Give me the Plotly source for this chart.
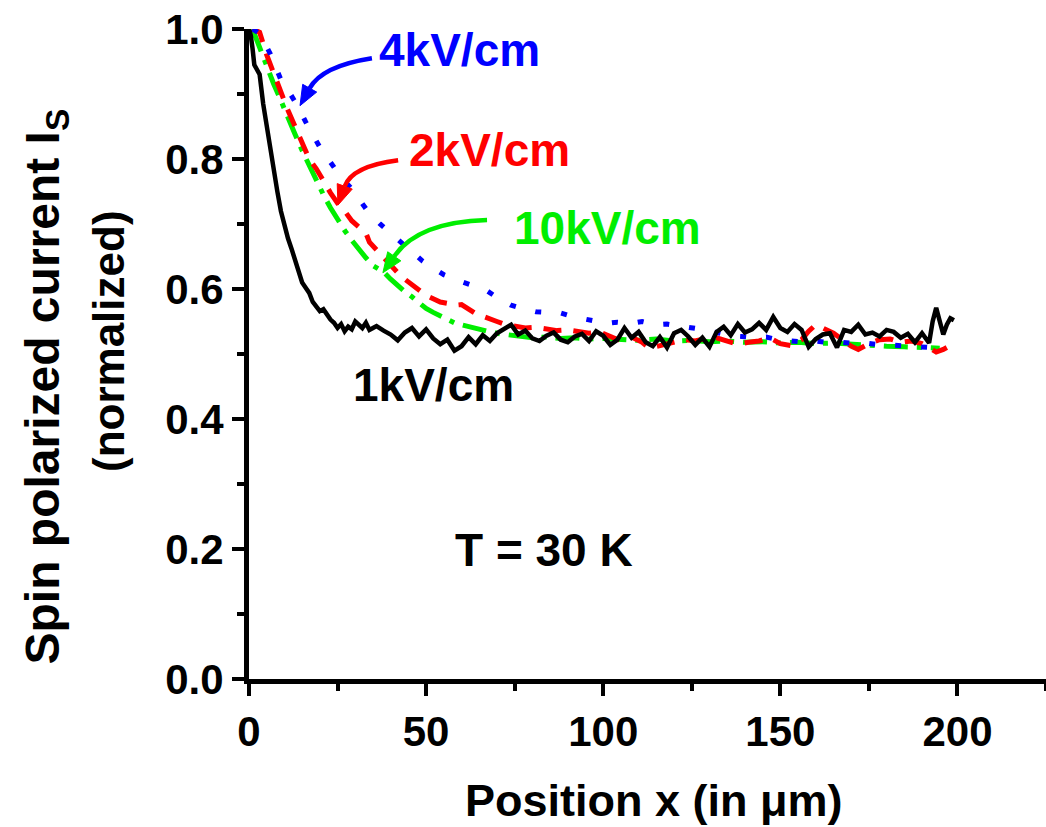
import math
import plotly.graph_objects as go

# ---------------- data ----------------
x_1kV = [0, 0.5, 1, 1.5, 2, 3, 4, 5, 6, 7, 8, 9, 10, 11, 12, 13, 14, 15, 16, 17, 18, 19, 20,
         21, 22, 23, 24, 25, 26, 27, 28, 29, 30, 31, 32, 33, 34, 35,
         36, 38, 40, 42, 44, 46, 48, 50, 52, 54, 56, 58, 60, 62, 64, 66, 68, 70, 72, 74, 76, 78,
         80, 82, 84, 86, 88, 90, 92, 94, 96, 98, 100, 102, 104, 106, 108, 110, 112, 114, 116, 118,
         120, 122, 124, 126, 128, 130, 132, 134, 136, 138, 140, 142, 144, 146, 148, 150, 152, 154,
         156, 158, 160, 162, 164, 166, 168, 170, 172, 174, 176, 178, 180, 182, 184, 186, 188, 190,
         192, 193, 194, 195, 196, 197, 198, 199]
y_1kV = [1.0, 0.99, 0.97, 0.945, 0.94, 0.93, 0.885, 0.85, 0.81, 0.78, 0.75, 0.72, 0.695, 0.678, 0.662, 0.646, 0.628, 0.61, 0.602, 0.594, 0.58, 0.574, 0.566,
         0.569, 0.56, 0.553, 0.548, 0.54, 0.546, 0.535, 0.542, 0.538, 0.55, 0.546, 0.54, 0.548, 0.537, 0.54,
         0.543, 0.536, 0.53, 0.521, 0.533, 0.54, 0.527, 0.538, 0.524, 0.515, 0.522, 0.505, 0.512, 0.526, 0.515, 0.529, 0.52, 0.532, 0.538, 0.545, 0.53, 0.536,
         0.524, 0.52, 0.528, 0.533, 0.522, 0.518, 0.527, 0.531, 0.52, 0.535, 0.528, 0.514, 0.522, 0.54, 0.525, 0.534, 0.518, 0.512, 0.526, 0.51,
         0.532, 0.537, 0.527, 0.514, 0.525, 0.511, 0.534, 0.542, 0.529, 0.546, 0.533, 0.538, 0.548, 0.537, 0.557, 0.54, 0.534, 0.546,
         0.537, 0.511, 0.523, 0.53, 0.532, 0.51, 0.537, 0.534, 0.545, 0.53, 0.533, 0.527, 0.537, 0.534, 0.525, 0.531, 0.518, 0.532,
         0.517, 0.55, 0.571, 0.55, 0.53, 0.545, 0.555, 0.552]

x_2kV = [1, 3, 5, 7, 9, 11, 13, 15, 17, 19, 21, 23, 25, 27, 29, 31, 33, 34, 36, 38, 40, 42, 44, 46, 48,
         50, 52, 54, 56, 58, 60, 62, 64, 66, 68, 70, 72, 75, 78, 81, 84, 87, 90, 93, 96, 99, 102, 105,
         108, 111, 113, 115, 117, 120, 123, 126, 129, 132, 135, 138, 141, 144, 147, 150, 153, 156, 158,
         160, 162, 165, 168, 170, 172, 175, 178, 181, 184, 187, 190, 192, 194, 196, 197]
y_2kV = [1.0, 0.995, 0.96, 0.93, 0.9, 0.875, 0.85, 0.825, 0.8, 0.785, 0.765, 0.748, 0.732, 0.72, 0.705, 0.695, 0.686, 0.672, 0.66, 0.648, 0.638, 0.625, 0.615, 0.607, 0.6,
         0.59, 0.585, 0.58, 0.578, 0.575, 0.576, 0.568, 0.562, 0.558, 0.553, 0.55, 0.546, 0.543, 0.54, 0.541, 0.538, 0.536, 0.537, 0.534, 0.532, 0.534, 0.527, 0.52,
         0.526, 0.518, 0.509, 0.512, 0.515, 0.518, 0.522, 0.52, 0.524, 0.525, 0.519, 0.515, 0.518, 0.52, 0.525, 0.516, 0.513, 0.522, 0.535,
         0.545, 0.54, 0.532, 0.52, 0.512, 0.507, 0.516, 0.522, 0.523, 0.518, 0.52, 0.516, 0.51, 0.503, 0.507, 0.51]

x_4kV = [1, 3, 6, 9, 12, 14, 16, 18, 20, 23, 26, 29, 32, 34, 37, 40, 43, 46, 49, 52, 55, 59, 63, 67,
         70, 74, 77, 81, 84, 88, 91, 94, 97, 101, 104, 108, 111, 115, 118, 122, 125, 129, 132, 136,
         139, 143, 146, 150, 153, 157, 160, 164, 167, 171, 174, 178, 181, 185, 188, 192, 195, 197]
y_4kV = [1.0, 0.993, 0.962, 0.922, 0.897, 0.879, 0.857, 0.836, 0.818, 0.795, 0.772, 0.754, 0.73, 0.716, 0.7, 0.686, 0.671, 0.657, 0.643, 0.632, 0.622, 0.613, 0.606, 0.598,
         0.587, 0.575, 0.57, 0.565, 0.564, 0.563, 0.558, 0.555, 0.551, 0.547, 0.549, 0.547, 0.55, 0.545, 0.546, 0.543, 0.54, 0.537, 0.533, 0.528,
         0.527, 0.525, 0.526, 0.521, 0.52, 0.518, 0.52, 0.517, 0.518, 0.516, 0.517, 0.514, 0.514, 0.512, 0.511, 0.51, 0.509, 0.508]

x_10kV = [1, 3, 5, 7, 9, 11, 13, 15, 17, 19, 21, 23, 25, 27, 29, 31, 33, 35, 37, 38, 40, 42, 44, 46, 48,
          50, 52, 54, 56, 58, 60, 62, 65, 68, 71, 74, 77, 80, 84, 88, 92, 96, 100, 105, 110, 115, 120,
          125, 130, 135, 140, 145, 150, 155, 160, 165, 170, 175, 180, 185, 190, 195]
y_10kV = [1.0, 0.97, 0.945, 0.915, 0.89, 0.862, 0.838, 0.813, 0.79, 0.765, 0.745, 0.725, 0.706, 0.69, 0.675, 0.66, 0.648, 0.636, 0.628, 0.626, 0.615, 0.605, 0.596, 0.588, 0.578,
          0.57, 0.564, 0.558, 0.553, 0.548, 0.545, 0.542, 0.538, 0.534, 0.531, 0.529, 0.527, 0.525, 0.526, 0.524, 0.525, 0.523, 0.524, 0.522, 0.521, 0.523, 0.52,
          0.521, 0.519, 0.52, 0.518, 0.519, 0.517, 0.518, 0.516, 0.517, 0.515, 0.514, 0.512, 0.511, 0.51, 0.509]

x_ticks = [0, 50, 100, 150, 200]
y_ticks = [0.0, 0.2, 0.4, 0.6, 0.8, 1.0]
y_ticklabels = ["0.0", "0.2", "0.4", "0.6", "0.8", "1.0"]

# ---------------- styles / layout ----------------
BLUE = "#0000ff"
RED = "#ff0000"
GREEN = "#00ee00"
BLACK = "#000000"
FONT = "Liberation Sans"

W, H = 1046, 827
ML, MR, MT, MB = 249, 0, 29, 148
XR = [0, 225]
YR = [0, 1]
SX = (W - ML - MR) / (XR[1] - XR[0])   # px per x unit
SY = (H - MT - MB) / (YR[1] - YR[0])   # px per y unit

fig = go.Figure()
fig.add_trace(go.Scatter(x=x_10kV, y=y_10kV, mode="lines",
                         line=dict(color=GREEN, width=5, dash="24px,9px,5px,9px")))
fig.add_trace(go.Scatter(x=x_2kV, y=y_2kV, mode="lines",
                         line=dict(color=RED, width=5, dash="18px,12px")))
fig.add_trace(go.Scatter(x=x_4kV, y=y_4kV, mode="lines",
                         line=dict(color=BLUE, width=5, dash="6px,20px")))
fig.add_trace(go.Scatter(x=x_1kV, y=y_1kV, mode="lines",
                         line=dict(color=BLACK, width=4.5)))

# curved arrows: start, control, end (data coords)
arrows = [
    (BLUE, (34.7, 0.955), (20.6, 0.943), (14.4, 0.882)),
    (RED, (42.1, 0.798), (29.1, 0.789), (25.1, 0.729)),
    (GREEN, (67.2, 0.706), (47.7, 0.703), (37.8, 0.625)),
]
shapes = []
annotations = []
HEAD_L, HEAD_W = 20, 8
for col, s, c, e in arrows:
    # tangent direction at end in pixel space (end - control)
    dxp = (e[0] - c[0]) * SX
    dyp = -(e[1] - c[1]) * SY
    n = math.hypot(dxp, dyp)
    ux, uy = dxp / n, dyp / n
    # base of head
    bxp, byp = -ux * HEAD_L, -uy * HEAD_L
    px_, py_ = -uy * HEAD_W, ux * HEAD_W
    def to_d(ox, oy):
        return e[0] + ox / SX, e[1] - oy / SY
    b = to_d(bxp, byp)
    b1 = to_d(bxp + px_, byp + py_)
    b2 = to_d(bxp - px_, byp - py_)
    shapes.append(dict(type="path", xref="x", yref="y",
                       path=f"M {s[0]},{s[1]} Q {c[0]},{c[1]} {b[0]},{b[1]}",
                       line=dict(color=col, width=4.5)))
    shapes.append(dict(type="path", xref="x", yref="y",
                       path=f"M {e[0]},{e[1]} L {b1[0]},{b1[1]} L {b2[0]},{b2[1]} Z",
                       line=dict(color=col, width=1), fillcolor=col))

labels = [
    ("4kV/cm", BLUE, 59.4, 0.968),
    ("2kV/cm", RED, 67.8, 0.814),
    ("10kV/cm", GREEN, 101.1, 0.694),
    ("1kV/cm", BLACK, 52.0, 0.452),
    ("T = 30 K", BLACK, 83.4, 0.198),
]
for t, col, x, y in labels:
    annotations.append(dict(x=x, y=y, xref="x", yref="y", text=t, showarrow=False,
                            font=dict(family=FONT, size=46, color=col, weight="bold"),
                            xanchor="center", yanchor="middle"))

# axis titles
annotations.append(dict(x=0.5, y=0, xref="paper", yref="paper", text="Position x (in μm)",
                        showarrow=False, xanchor="center", yanchor="middle", xshift=6, yshift=-121,
                        font=dict(family=FONT, size=45, color=BLACK, weight="bold")))
annotations.append(dict(x=0, y=0.45, xref="paper", yref="paper", text="Spin polarized current I<sub>S</sub>",
                        showarrow=False, textangle=-90, xanchor="center", yanchor="middle", xshift=-204,
                        font=dict(family=FONT, size=48, color=BLACK, weight="bold")))
annotations.append(dict(x=0, y=0.52, xref="paper", yref="paper", text="(normalized)",
                        showarrow=False, textangle=-90, xanchor="center", yanchor="middle", xshift=-141,
                        font=dict(family=FONT, size=44, color=BLACK, weight="bold")))

fig.update_layout(
    width=W, height=H,
    margin=dict(l=ML, r=MR, t=MT, b=MB, pad=0),
    plot_bgcolor="white", paper_bgcolor="white",
    showlegend=False,
    shapes=shapes, annotations=annotations,
    font=dict(family=FONT, color=BLACK),
)
fig.update_xaxes(range=XR, showline=True, linewidth=5, linecolor=BLACK, mirror=False,
                 showgrid=False, zeroline=False, ticks="outside", ticklen=12, tickwidth=4,
                 tickcolor=BLACK, tickvals=x_ticks,
                 tickfont=dict(family=FONT, size=42, color=BLACK, weight="bold"),
                 minor=dict(dtick=25, tick0=0, ticks="outside", ticklen=7, tickwidth=4, tickcolor=BLACK))
fig.update_yaxes(range=YR, showline=True, linewidth=5, linecolor=BLACK, mirror=False,
                 showgrid=False, zeroline=False, ticks="outside", ticklen=12, tickwidth=4,
                 tickcolor=BLACK, tickvals=y_ticks, ticktext=y_ticklabels,
                 tickfont=dict(family=FONT, size=42, color=BLACK, weight="bold"),
                 minor=dict(dtick=0.1, tick0=0, ticks="outside", ticklen=7, tickwidth=4, tickcolor=BLACK))

fig.write_html("out.html")
